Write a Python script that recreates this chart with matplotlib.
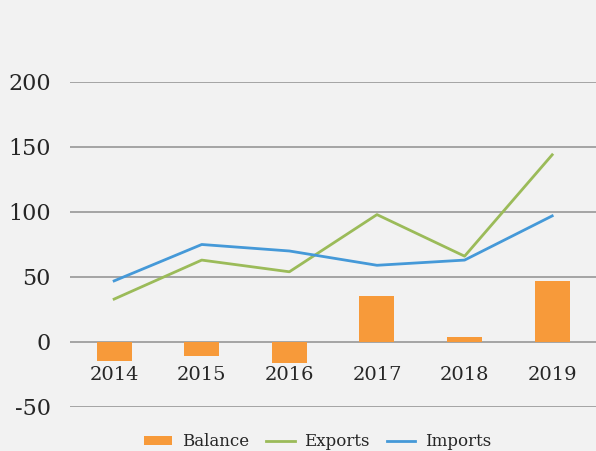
import numpy as np
import matplotlib
matplotlib.use("Agg")
import matplotlib.pyplot as plt

# ── data ──────────────────────────────────────────────────────────────────────
years   = ["2014", "2015", "2016", "2017", "2018", "2019"]
balance = [-15, -11, -16, 35, 4, 47]
exports = [33, 63, 54, 98, 66, 144]
imports = [47, 75, 70, 59, 63, 97]

BG     = "#f2f2f2"
ORANGE = "#f79a3a"
GREEN  = "#9bbb59"
BLUE   = "#4599d8"
GRID   = "#8f8f8f"
TXT    = "#262626"

plt.rcParams["font.family"] = ["DejaVu Serif"]
plt.rcParams["axes.unicode_minus"] = False

fig = plt.figure(figsize=(5.96, 4.51), dpi=100, facecolor=BG)
ax = fig.add_axes([0.118, 0.0976, 0.882, 0.7206], facecolor=BG)

x = np.arange(len(years))
bars = ax.bar(x, balance, width=0.4, color=ORANGE, label="Balance", zorder=2)
l_exp, = ax.plot(x, exports, color=GREEN, lw=2, label="Exports", zorder=3)
l_imp, = ax.plot(x, imports, color=BLUE, lw=2, label="Imports", zorder=3)

ax.set_xlim(-0.5, len(years) - 0.5)
ax.set_ylim(-50, 200)
ax.set_yticks([-50, 0, 50, 100, 150, 200])
ax.set_xticks([])
ax.yaxis.grid(True, color=GRID, lw=1.1, zorder=1)
ax.set_axisbelow(True)
for s in ax.spines.values():
    s.set_visible(False)
ax.tick_params(axis="y", length=0, pad=14, labelsize=16, labelcolor=TXT)

# year labels hang just under the zero line
for i, yr in enumerate(years):
    ax.annotate(yr, xy=(i, 0), xytext=(0, -17), textcoords="offset points",
                ha="center", va="top", fontsize=14, color=TXT)

fig.legend(handles=[bars, l_exp, l_imp], loc="center",
           bbox_to_anchor=(0.533, 0.02), ncol=3, frameon=False,
           fontsize=12, handlelength=1.7, handleheight=0.5, columnspacing=1.0,
           handletextpad=0.6, labelcolor=TXT)

fig.savefig("out.png", dpi=100, facecolor=BG)
